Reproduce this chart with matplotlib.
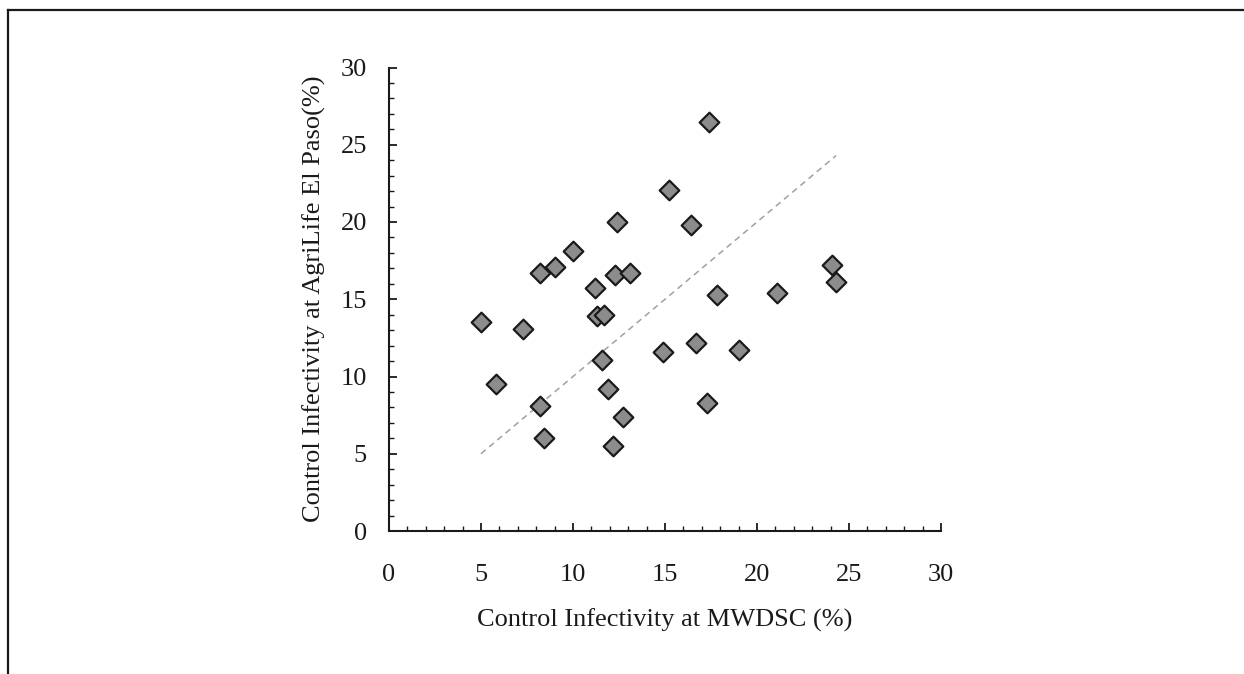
import numpy as np
import matplotlib
matplotlib.use("Agg")
import matplotlib.pyplot as plt
from matplotlib.lines import Line2D
from matplotlib.ticker import MultipleLocator

# Control infectivity (%)
mwdsc = [17.4, 15.2, 12.4, 16.4, 10.0, 8.2, 9.0, 12.3, 13.1, 11.2,
         17.8, 11.3, 11.7, 5.0, 7.3,
         11.6, 14.9, 16.7, 19.0, 5.8, 11.9, 8.2, 12.7, 17.3, 8.4, 12.2,
         24.1, 24.3, 21.1]
agrilife = [26.5, 22.1, 20.0, 19.8, 18.1, 16.7, 17.1, 16.6, 16.7, 15.7,
            15.3, 13.9, 14.0, 13.5, 13.1,
            11.1, 11.6, 12.2, 11.7, 9.5, 9.2, 8.1, 7.4, 8.3, 6.0, 5.5,
            17.2, 16.1, 15.4]
x_label = "Control Infectivity at MWDSC (%)"
y_label = "Control Infectivity at AgriLife El Paso(%)"

plt.rcParams['font.family'] = ['Liberation Serif', 'DejaVu Serif']

fig = plt.figure(figsize=(12.44, 6.74), dpi=100)
ax = fig.add_axes([389 / 1244, 1 - 531 / 674, (941 - 389) / 1244, (531 - 67.5) / 674])

# 1:1 reference line over the data range
lo, hi = min(mwdsc), max(mwdsc)
ax.plot([lo, hi], [lo, hi], ls=(0, (4, 3)), color='#a0a0a0', lw=1.1, zorder=1)

ax.scatter(mwdsc, agrilife, marker='D', s=100, facecolor='#8c8c8c',
           edgecolor='#1a1a1a', linewidth=1.6, zorder=3)

ax.set_xlim(0, 30)
ax.set_ylim(0, 30)
ax.xaxis.set_major_locator(MultipleLocator(5))
ax.yaxis.set_major_locator(MultipleLocator(5))
ax.xaxis.set_minor_locator(MultipleLocator(1))
ax.yaxis.set_minor_locator(MultipleLocator(1))

for s in ['top', 'right']:
    ax.spines[s].set_visible(False)
for s in ['left', 'bottom']:
    ax.spines[s].set_linewidth(1.5)
    ax.spines[s].set_color('#1a1a1a')

ax.tick_params(which='major', direction='in', length=6, width=1.3, color='#1a1a1a',
               labelsize=19, labelcolor='#1a1a1a')
ax.tick_params(which='minor', direction='in', length=3.5, width=1.0, color='#1a1a1a')
ax.tick_params(axis='x', which='major', pad=24)
ax.tick_params(axis='y', which='major', pad=16)

ax.set_xlabel(x_label, fontsize=19, color='#1a1a1a', labelpad=16)
ax.set_ylabel(y_label, fontsize=19, color='#1a1a1a', labelpad=10.5)

# frame lines around the figure (top and left only visible)
fig.add_artist(Line2D([8 / 1244, 1], [1 - 10 / 674, 1 - 10 / 674],
                      transform=fig.transFigure, color='#1a1a1a', lw=1.6))
fig.add_artist(Line2D([8 / 1244, 8 / 1244], [0, 1 - 10 / 674],
                      transform=fig.transFigure, color='#1a1a1a', lw=1.6))

fig.savefig("out.png", dpi=100, facecolor='white')
